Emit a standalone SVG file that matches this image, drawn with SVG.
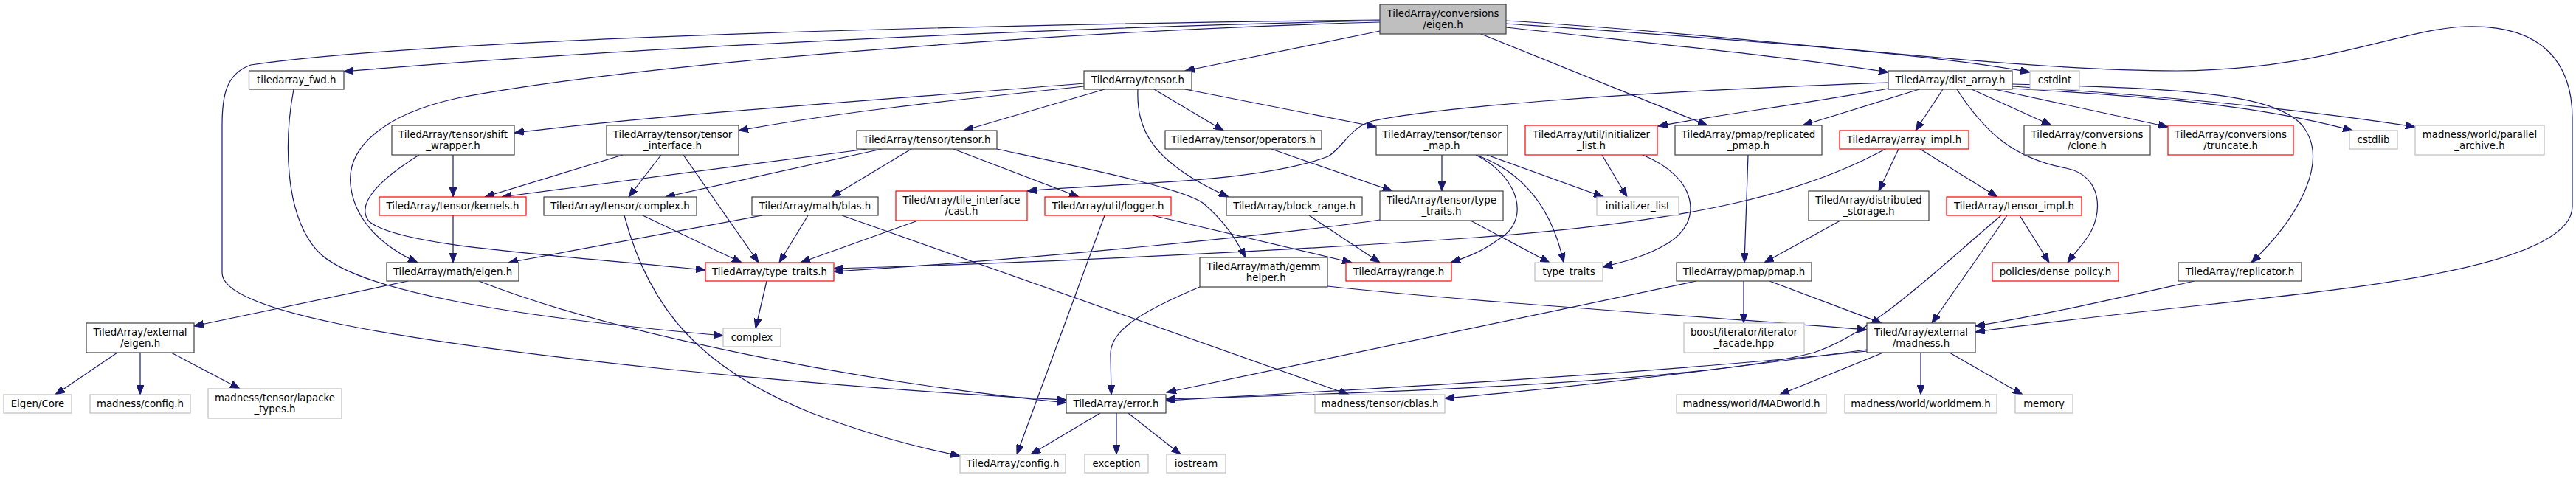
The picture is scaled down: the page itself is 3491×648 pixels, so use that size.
<svg xmlns="http://www.w3.org/2000/svg" width="3491" height="648" viewBox="0 0 3491 648">
<style>
.nd rect{fill:#fff;stroke:#404040;stroke-width:1.2}
.nd.r rect{stroke:#ff0000}
.nd.g rect{stroke:#bfbfbf}
.nd.root rect{fill:#bfbfbf}
text{font-family:"DejaVu Sans","Liberation Sans",sans-serif;font-size:13.33px;text-anchor:middle;fill:#000}
#edges path{fill:none;stroke:#191970;stroke-width:1.2;marker-end:url(#a)}
</style>
<defs>
<marker id="a" markerUnits="userSpaceOnUse" markerWidth="14" markerHeight="10" refX="13" refY="5" orient="auto">
<path d="M0,0 L13,5 L0,10 Z" fill="#191970" stroke="#191970" stroke-width="1"/>
</marker>
</defs>
<rect width="3491" height="648" fill="#fff"/>
<g id="edges">
<path d="M1870,28 C1400,38 800,68 466,97"/>
<path d="M1870,27 C1400,32 600,50 340,88 C306,100 301,130 301,170 L301,370 C301,420 520,460 900,500 C1150,525 1350,538 1445,542"/>
<path d="M1870,30 C1500,40 900,80 620,133 C520,155 470,200 475,250 C480,300 520,335 566,356"/>
<path d="M1870,42 L1606,96"/>
<path d="M2041,37 C2250,60 2450,80 2559,98"/>
<path d="M2041,32 C2300,50 2600,70 2751,98"/>
<path d="M2041,28 C2400,50 2700,95 2950,96 C3150,95 3250,40 3340,36 C3450,32 3486,90 3486,160 L3486,280 C3486,360 3200,390 3000,412 C2850,428 2750,440 2677,450"/>
<path d="M2007,46 L2314,170"/>
<path d="M1469,113 C1200,135 900,155 697,180"/>
<path d="M1469,117 C1300,135 1150,150 1001,177"/>
<path d="M1497,121 L1306,177"/>
<path d="M1564,121 L1658,177"/>
<path d="M1542,121 C1540,175 1560,220 1665,267"/>
<path d="M1606,121 L1865,172"/>
<path d="M1175,202 L680,267"/>
<path d="M1195,202 L902,267"/>
<path d="M1235,202 L1127,267"/>
<path d="M1292,202 L1462,267"/>
<path d="M1351,202 C1480,230 1600,255 1630,275 C1660,300 1675,325 1688,349"/>
<path d="M844,210 L657,267"/>
<path d="M896,210 L852,267"/>
<path d="M926,210 L1028,356"/>
<path d="M614,210 L614,267"/>
<path d="M568,210 C520,240 480,275 500,300 C540,335 750,345 956,366"/>
<path d="M614,292 L614,356"/>
<path d="M553,381 L263,442"/>
<path d="M649,381 C850,460 1200,522 1445,546"/>
<path d="M159,478 L75,535"/>
<path d="M190,478 L190,535"/>
<path d="M232,478 L325,527"/>
<path d="M398,121 C385,190 385,290 430,340 C480,395 700,430 980,455"/>
<path d="M1039,381 L1024,445"/>
<path d="M1033,292 L689,356"/>
<path d="M1095,292 L1056,356"/>
<path d="M1141,292 L1828,535"/>
<path d="M1244,299 L1085,356"/>
<path d="M1497,292 L1378,616"/>
<path d="M1562,292 L1832,356"/>
<path d="M871,292 L1005,356"/>
<path d="M846,292 C880,420 950,500 1100,560 C1180,590 1250,608 1301,618"/>
<path d="M1723,202 L1887,259"/>
<path d="M1774,292 L1870,356"/>
<path d="M1954,210 L1954,259"/>
<path d="M2000,210 C2060,240 2075,300 2030,325 C2010,340 1990,348 1966,356"/>
<path d="M2000,210 C2070,235 2105,290 2119,356"/>
<path d="M2015,210 L2173,267"/>
<path d="M1993,299 L2100,356"/>
<path d="M1870,298 C1750,316 1400,352 1130,368"/>
<path d="M2171,210 L2205,267"/>
<path d="M2226,210 C2300,240 2310,300 2260,330 C2230,348 2200,355 2172,362"/>
<path d="M2555,202 C2450,260 2300,300 2000,322 C1700,343 1350,358 1130,364"/>
<path d="M2573,202 L2546,259"/>
<path d="M2602,202 L2707,267"/>
<path d="M2633,121 L2596,177"/>
<path d="M2601,121 L2443,170"/>
<path d="M2672,121 L2780,170"/>
<path d="M2703,121 L2938,172"/>
<path d="M2727,120 C2900,130 3050,140 3188,177"/>
<path d="M2727,117 C2900,128 3100,145 3273,172"/>
<path d="M2727,114 C2950,120 3080,125 3120,170 C3160,220 3110,300 3051,356"/>
<path d="M2559,120 C2450,140 2320,157 2247,171"/>
<path d="M2559,112 C2200,125 1950,145 1860,164 C1830,172 1820,200 1800,212 C1700,250 1500,248 1392,259"/>
<path d="M2652,121 C2690,180 2730,215 2800,228 C2850,238 2850,290 2830,320 C2820,335 2810,345 2802,356"/>
<path d="M2737,292 L2777,356"/>
<path d="M2720,292 L2618,438"/>
<path d="M2712,292 C2620,370 2540,450 2458,478 C2300,520 1800,535 1580,541"/>
<path d="M2530,476 C2200,510 1800,530 1580,543"/>
<path d="M2530,474 C2300,505 2100,528 1958,540"/>
<path d="M2299,381 L1581,532"/>
<path d="M1626,389 C1540,425 1505,450 1505,480 L1506,535"/>
<path d="M1799,388 C2000,410 2300,428 2530,447"/>
<path d="M1491,560 L1397,616"/>
<path d="M1513,560 L1513,616"/>
<path d="M1529,560 L1600,616"/>
<path d="M2494,299 L2391,356"/>
<path d="M2369,210 L2364,356"/>
<path d="M2363,381 L2363,438"/>
<path d="M2398,381 L2550,438"/>
<path d="M2974,381 C2880,402 2780,425 2677,442"/>
<path d="M2552,478 L2412,535"/>
<path d="M2603,478 L2603,535"/>
<path d="M2642,478 L2741,535"/>
</g>
<g id="n_root" class="nd root"><rect x="1870" y="6" width="171" height="40"/><text x="1955.5" y="22.5">TiledArray/conversions</text><text x="1955.5" y="37.5">/eigen.h</text></g>
<g id="n_fwd" class="nd"><rect x="337.5" y="96" width="128.5" height="25"/><text x="401.75" y="113">tiledarray_fwd.h</text></g>
<g id="n_tensor" class="nd"><rect x="1469" y="96" width="146" height="25"/><text x="1542" y="113">TiledArray/tensor.h</text></g>
<g id="n_dist_array" class="nd"><rect x="2559" y="96" width="168" height="25"/><text x="2643" y="113">TiledArray/dist_array.h</text></g>
<g id="n_cstdint" class="nd g"><rect x="2751" y="96" width="67" height="25"/><text x="2784.5" y="113">cstdint</text></g>
<g id="n_shift" class="nd"><rect x="531" y="170" width="166" height="40"/><text x="614" y="186.5">TiledArray/tensor/shift</text><text x="614" y="201.5">_wrapper.h</text></g>
<g id="n_tinterface" class="nd"><rect x="822" y="170" width="179" height="40"/><text x="911.5" y="186.5">TiledArray/tensor/tensor</text><text x="911.5" y="201.5">_interface.h</text></g>
<g id="n_ttensor" class="nd"><rect x="1161" y="177" width="190" height="25"/><text x="1256" y="194">TiledArray/tensor/tensor.h</text></g>
<g id="n_operators" class="nd"><rect x="1579" y="177" width="212" height="25"/><text x="1685" y="194">TiledArray/tensor/operators.h</text></g>
<g id="n_tmap" class="nd"><rect x="1865" y="170" width="178" height="40"/><text x="1954" y="186.5">TiledArray/tensor/tensor</text><text x="1954" y="201.5">_map.h</text></g>
<g id="n_initlisth" class="nd r"><rect x="2067" y="170" width="179" height="40"/><text x="2156.5" y="186.5">TiledArray/util/initializer</text><text x="2156.5" y="201.5">_list.h</text></g>
<g id="n_replpmap" class="nd"><rect x="2270" y="170" width="199" height="40"/><text x="2369.5" y="186.5">TiledArray/pmap/replicated</text><text x="2369.5" y="201.5">_pmap.h</text></g>
<g id="n_arrayimpl" class="nd r"><rect x="2493" y="177" width="175" height="25"/><text x="2580.5" y="194">TiledArray/array_impl.h</text></g>
<g id="n_clone" class="nd"><rect x="2743" y="170" width="171" height="40"/><text x="2828.5" y="186.5">TiledArray/conversions</text><text x="2828.5" y="201.5">/clone.h</text></g>
<g id="n_truncate" class="nd r"><rect x="2938" y="170" width="170" height="40"/><text x="3023" y="186.5">TiledArray/conversions</text><text x="3023" y="201.5">/truncate.h</text></g>
<g id="n_cstdlib" class="nd g"><rect x="3184" y="177" width="65" height="25"/><text x="3216.5" y="194">cstdlib</text></g>
<g id="n_parch" class="nd g"><rect x="3273" y="170" width="175" height="40"/><text x="3360.5" y="186.5">madness/world/parallel</text><text x="3360.5" y="201.5">_archive.h</text></g>
<g id="n_kernels" class="nd r"><rect x="514" y="267" width="199" height="25"/><text x="613.5" y="284">TiledArray/tensor/kernels.h</text></g>
<g id="n_complexh" class="nd"><rect x="737" y="267" width="207" height="25"/><text x="840.5" y="284">TiledArray/tensor/complex.h</text></g>
<g id="n_blas" class="nd"><rect x="1019" y="267" width="171" height="25"/><text x="1104.5" y="284">TiledArray/math/blas.h</text></g>
<g id="n_cast" class="nd r"><rect x="1214" y="259" width="178" height="40"/><text x="1303" y="275.5">TiledArray/tile_interface</text><text x="1303" y="290.5">/cast.h</text></g>
<g id="n_logger" class="nd r"><rect x="1416" y="267" width="171" height="25"/><text x="1501.5" y="284">TiledArray/util/logger.h</text></g>
<g id="n_blockrange" class="nd"><rect x="1662" y="267" width="184" height="25"/><text x="1754" y="284">TiledArray/block_range.h</text></g>
<g id="n_ttraits" class="nd"><rect x="1870" y="259" width="167" height="40"/><text x="1953.5" y="275.5">TiledArray/tensor/type</text><text x="1953.5" y="290.5">_traits.h</text></g>
<g id="n_initlist" class="nd g"><rect x="2164" y="267" width="111" height="25"/><text x="2219.5" y="284">initializer_list</text></g>
<g id="n_dstorage" class="nd"><rect x="2451" y="259" width="163" height="40"/><text x="2532.5" y="275.5">TiledArray/distributed</text><text x="2532.5" y="290.5">_storage.h</text></g>
<g id="n_timpl" class="nd r"><rect x="2638" y="267" width="183" height="25"/><text x="2729.5" y="284">TiledArray/tensor_impl.h</text></g>
<g id="n_matheigen" class="nd"><rect x="524" y="356" width="179" height="25"/><text x="613.5" y="373">TiledArray/math/eigen.h</text></g>
<g id="n_typetraitsh" class="nd r"><rect x="956" y="356" width="174" height="25"/><text x="1043" y="373">TiledArray/type_traits.h</text></g>
<g id="n_gemm" class="nd"><rect x="1626" y="349" width="173" height="40"/><text x="1712.5" y="365.5">TiledArray/math/gemm</text><text x="1712.5" y="380.5">_helper.h</text></g>
<g id="n_range" class="nd r"><rect x="1824" y="356" width="143" height="25"/><text x="1895.5" y="373">TiledArray/range.h</text></g>
<g id="n_typetraits" class="nd g"><rect x="2080" y="356" width="92" height="25"/><text x="2126" y="373">type_traits</text></g>
<g id="n_pmap" class="nd"><rect x="2272" y="356" width="183" height="25"/><text x="2363.5" y="373">TiledArray/pmap/pmap.h</text></g>
<g id="n_dense" class="nd r"><rect x="2700" y="356" width="171" height="25"/><text x="2785.5" y="373">policies/dense_policy.h</text></g>
<g id="n_replicator" class="nd"><rect x="2952" y="356" width="167" height="25"/><text x="3035.5" y="373">TiledArray/replicator.h</text></g>
<g id="n_exteigen" class="nd"><rect x="117" y="438" width="146" height="40"/><text x="190" y="454.5">TiledArray/external</text><text x="190" y="469.5">/eigen.h</text></g>
<g id="n_complex" class="nd g"><rect x="980" y="445" width="78" height="25"/><text x="1019" y="462">complex</text></g>
<g id="n_boost" class="nd g"><rect x="2282" y="438" width="163" height="40"/><text x="2363.5" y="454.5">boost/iterator/iterator</text><text x="2363.5" y="469.5">_facade.hpp</text></g>
<g id="n_madness" class="nd"><rect x="2530" y="438" width="147" height="40"/><text x="2603.5" y="454.5">TiledArray/external</text><text x="2603.5" y="469.5">/madness.h</text></g>
<g id="n_eigencore" class="nd g"><rect x="5" y="535" width="92" height="25"/><text x="51" y="552">Eigen/Core</text></g>
<g id="n_mconfig" class="nd g"><rect x="122" y="535" width="136" height="25"/><text x="190" y="552">madness/config.h</text></g>
<g id="n_lapacke" class="nd g"><rect x="282" y="527" width="181" height="40"/><text x="372.5" y="543.5">madness/tensor/lapacke</text><text x="372.5" y="558.5">_types.h</text></g>
<g id="n_error" class="nd"><rect x="1445" y="535" width="135" height="25"/><text x="1512.5" y="552">TiledArray/error.h</text></g>
<g id="n_cblas" class="nd g"><rect x="1782" y="535" width="176" height="25"/><text x="1870" y="552">madness/tensor/cblas.h</text></g>
<g id="n_madworld" class="nd g"><rect x="2272" y="535" width="203" height="25"/><text x="2373.5" y="552">madness/world/MADworld.h</text></g>
<g id="n_worldmem" class="nd g"><rect x="2500" y="535" width="206" height="25"/><text x="2603" y="552">madness/world/worldmem.h</text></g>
<g id="n_memory" class="nd g"><rect x="2731" y="535" width="78" height="25"/><text x="2770" y="552">memory</text></g>
<g id="n_config" class="nd g"><rect x="1301" y="616" width="143" height="25"/><text x="1372.5" y="633">TiledArray/config.h</text></g>
<g id="n_exception" class="nd g"><rect x="1470" y="616" width="86" height="25"/><text x="1513" y="633">exception</text></g>
<g id="n_iostream" class="nd g"><rect x="1581" y="616" width="80" height="25"/><text x="1621" y="633">iostream</text></g>
</svg>
